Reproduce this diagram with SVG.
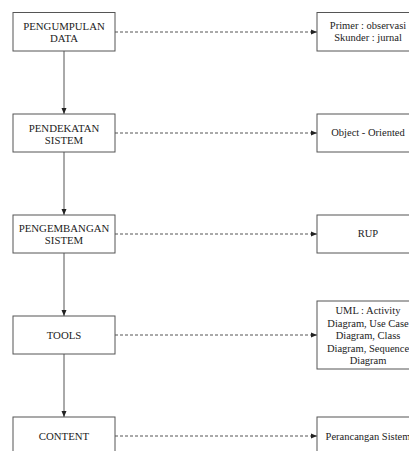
<svg xmlns="http://www.w3.org/2000/svg" width="409" height="451" viewBox="0 0 409 451">
<style>
.box{fill:#fff;stroke:#555;stroke-width:1}
.t{font-family:"Liberation Serif","Times New Roman",serif;font-size:10.8px;fill:#222;text-anchor:middle}
.r{font-family:"Liberation Serif","Times New Roman",serif;font-size:10.5px;fill:#222;text-anchor:middle}
.solid{stroke:#555;stroke-width:1;fill:none}
.dash{stroke:#555;stroke-width:1;fill:none;stroke-dasharray:3,2}
</style>
<defs>
<marker id="ah" markerWidth="6" markerHeight="6" refX="6" refY="3" orient="auto" markerUnits="userSpaceOnUse">
<path d="M0,0.5 L6,3 L0,5.5 Z" fill="#222"/>
</marker>
</defs>
<rect width="409" height="451" fill="#fff"/>
<g id="connectors">
<line class="solid" x1="64" y1="51" x2="64" y2="114" marker-end="url(#ah)"/>
<line class="solid" x1="64" y1="152" x2="64" y2="215" marker-end="url(#ah)"/>
<line class="solid" x1="64" y1="253" x2="64" y2="316" marker-end="url(#ah)"/>
<line class="solid" x1="64" y1="354" x2="64" y2="417" marker-end="url(#ah)"/>
<line class="dash" x1="115" y1="32" x2="317" y2="32" marker-end="url(#ah)"/>
<line class="dash" x1="115" y1="133" x2="317" y2="133" marker-end="url(#ah)"/>
<line class="dash" x1="115" y1="234" x2="317" y2="234" marker-end="url(#ah)"/>
<line class="dash" x1="115" y1="335" x2="317" y2="335" marker-end="url(#ah)"/>
<line class="dash" x1="115" y1="436" x2="317" y2="436" marker-end="url(#ah)"/>
</g>
<g id="pengumpulan">
<rect class="box" x="13" y="12.5" width="102" height="38.5"/>
<text class="t" x="64" y="29.5">PENGUMPULAN</text>
<text class="t" x="64" y="42">DATA</text>
</g>
<g id="pendekatan">
<rect class="box" x="13" y="114" width="102" height="38"/>
<text class="t" x="64" y="131.5">PENDEKATAN</text>
<text class="t" x="64" y="143.5">SISTEM</text>
</g>
<g id="pengembangan">
<rect class="box" x="13" y="215" width="102" height="38"/>
<text class="t" x="64" y="232">PENGEMBANGAN</text>
<text class="t" x="64" y="243.5">SISTEM</text>
</g>
<g id="tools">
<rect class="box" x="13" y="316" width="102" height="38"/>
<text class="t" x="64" y="338.5">TOOLS</text>
</g>
<g id="content">
<rect class="box" x="13" y="417" width="102" height="38"/>
<text class="t" x="64" y="439.5">CONTENT</text>
</g>
<g id="primer">
<rect class="box" x="317" y="12.5" width="102" height="38.5"/>
<text class="r" x="368" y="29">Primer : observasi</text>
<text class="r" x="368" y="40.5">Skunder : jurnal</text>
</g>
<g id="object">
<rect class="box" x="317" y="114" width="102" height="38"/>
<text class="r" x="368" y="135.5">Object - Oriented</text>
</g>
<g id="rup">
<rect class="box" x="317" y="215" width="102" height="38"/>
<text class="r" x="368" y="237">RUP</text>
</g>
<g id="uml">
<rect class="box" x="317" y="301" width="102" height="68"/>
<text class="r" x="368" y="314">UML : Activity</text>
<text class="r" x="368" y="326.5">Diagram, Use Case</text>
<text class="r" x="368" y="339">Diagram, Class</text>
<text class="r" x="368" y="351.5">Diagram, Sequence</text>
<text class="r" x="368" y="364">Diagram</text>
</g>
<g id="perancangan">
<rect class="box" x="317" y="417" width="102" height="38"/>
<text class="r" x="368" y="439.5">Perancangan Sistem</text>
</g>
</svg>
